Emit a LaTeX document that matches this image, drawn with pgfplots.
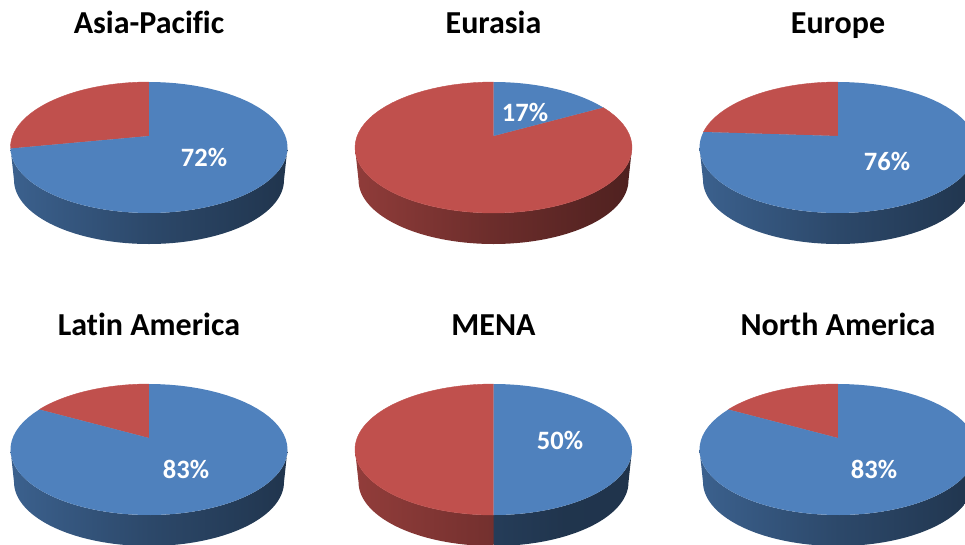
\documentclass[border=0pt]{standalone}
\usepackage{fontspec}
\setmainfont{Carlito}[Ligatures=NoCommon]
\usepackage{pgfplots}
\pgfplotsset{compat=1.18}
\definecolor{pieblue}{HTML}{4F81BD}
\definecolor{piered}{HTML}{C0504D}
\pgfdeclarehorizontalshading{bluefull}{100bp}{color(0bp)=(pieblue!88!black); color(25bp)=(pieblue!75!black); color(50bp)=(pieblue!56!black); color(75bp)=(pieblue!41!black); color(100bp)=(pieblue!40!black)}
\pgfdeclarehorizontalshading{bluehalf}{100bp}{color(0bp)=(pieblue!56!black); color(25bp)=(pieblue!47!black); color(50bp)=(pieblue!41!black); color(75bp)=(pieblue!40!black); color(100bp)=(pieblue!40!black)}
\pgfdeclarehorizontalshading{redfull}{100bp}{color(0bp)=(piered!88!black); color(25bp)=(piered!75!black); color(50bp)=(piered!56!black); color(75bp)=(piered!41!black); color(100bp)=(piered!38!black)}
\pgfdeclarehorizontalshading{redhalf}{100bp}{color(0bp)=(piered!85!black); color(25bp)=(piered!76!black); color(50bp)=(piered!68!black); color(75bp)=(piered!60!black); color(100bp)=(piered!52!black)}
% append points of an elliptical arc: centre, semi-axes, start and end angle (clockwise from top)
\newcommand\addarc[6]{%
  \foreach \i in {0,...,72}{%
    \pgfmathsetmacro\ang{#5+(\i/72)*(#6-#5)}%
    \pgfmathsetmacro\xx{#1+#3*sin(\ang)}%
    \pgfmathsetmacro\yy{#2-#4*cos(\ang)}%
    \xdef\coords{\coords (\xx,\yy)}%
  }}
\newcommand\plotcoords[1]{%
  \edef\temp{\noexpand\addplot[\unexpanded{#1}] coordinates {\coords} -- cycle;}\temp}
% wall between two rim angles
\newcommand\wall[5]{% cx cy t0 t1 options
  \gdef\coords{}%
  \addarc{#1}{#2}{138.5}{65.5}{#3}{#4}%
  \pgfmathsetmacro\cyb{#2+32.5}%
  \addarc{#1}{\cyb}{135}{64}{#4}{#3}%
  \plotcoords{#5}}
% pie: cx cy value labelx labely(baseline) title
\newcommand\pie[6]{%
  \pgfmathsetmacro\thet{#3*3.6}%
  \pgfmathsetmacro\kk{-0.1756*cos(\thet)+sqrt(1-0.1756*0.1756*sin(\thet)*sin(\thet))}%
  \pgfmathsetmacro\uu{\kk*sin(\thet)}%
  \pgfmathsetmacro\vv{0.1756+\kk*cos(\thet)}%
  \pgfmathsetmacro\tend{atan2(\uu,\vv)}%
  \ifdim\tend pt<0pt \pgfmathsetmacro\tend{\tend+360}\fi
  \pgfmathsetmacro\apex{#2-11.5}%
  \ifdim\tend pt<90pt
    \wall{#1}{#2}{90}{270}{draw=none,shading=redfull}%
  \else\ifdim\tend pt>260pt
    \wall{#1}{#2}{90}{270}{draw=none,shading=bluefull}%
  \else
    \wall{#1}{#2}{90}{\tend}{draw=none,shading=bluehalf}%
    \wall{#1}{#2}{\tend}{270}{draw=none,shading=redhalf}%
  \fi\fi
  \xdef\coords{(#1,\apex)}%
  \addarc{#1}{#2}{138.5}{65.5}{\tend}{360}%
  \plotcoords{draw=piered,line width=0.4pt,fill=piered}%
  \xdef\coords{(#1,\apex)}%
  \addarc{#1}{#2}{138.5}{65.5}{0}{\tend}%
  \plotcoords{draw=none,fill=pieblue}%
  \node[anchor=base,text=white,inner sep=0pt,font=\fontsize{26.5}{26.5}\selectfont\bfseries] at (axis cs:#4,#5) {#3\%};
  \pgfmathsetmacro\ty{#2-114}%
  \edef\temp{\noexpand\node[anchor=base,inner sep=0pt,text=black,font=\noexpand\fontsize{32}{32}\noexpand\selectfont\noexpand\bfseries] at (axis cs:#1,\ty) {\unexpanded{#6}};}\temp
}
\begin{document}
\begin{tikzpicture}
\begin{axis}[
  scale only axis, width=965pt, height=544pt,
  xmin=0, xmax=965, ymin=0, ymax=544, y dir=reverse,
  hide axis, clip=true]
\path (axis cs:0,0) rectangle (axis cs:965,544);
\pie{149}{147.5}{72}{204}{166}{Asia-Pacific}
\pie{493.5}{147.5}{17}{525}{121}{Eurasia}
\pie{838}{147.5}{76}{887}{170}{Europe}
\pie{149}{449.5}{83}{186}{478}{Latin America}
\pie{493.5}{449.5}{50}{560}{449}{MENA}
\pie{838}{449.5}{83}{874}{478}{North America}
\end{axis}
\end{tikzpicture}
\end{document}
